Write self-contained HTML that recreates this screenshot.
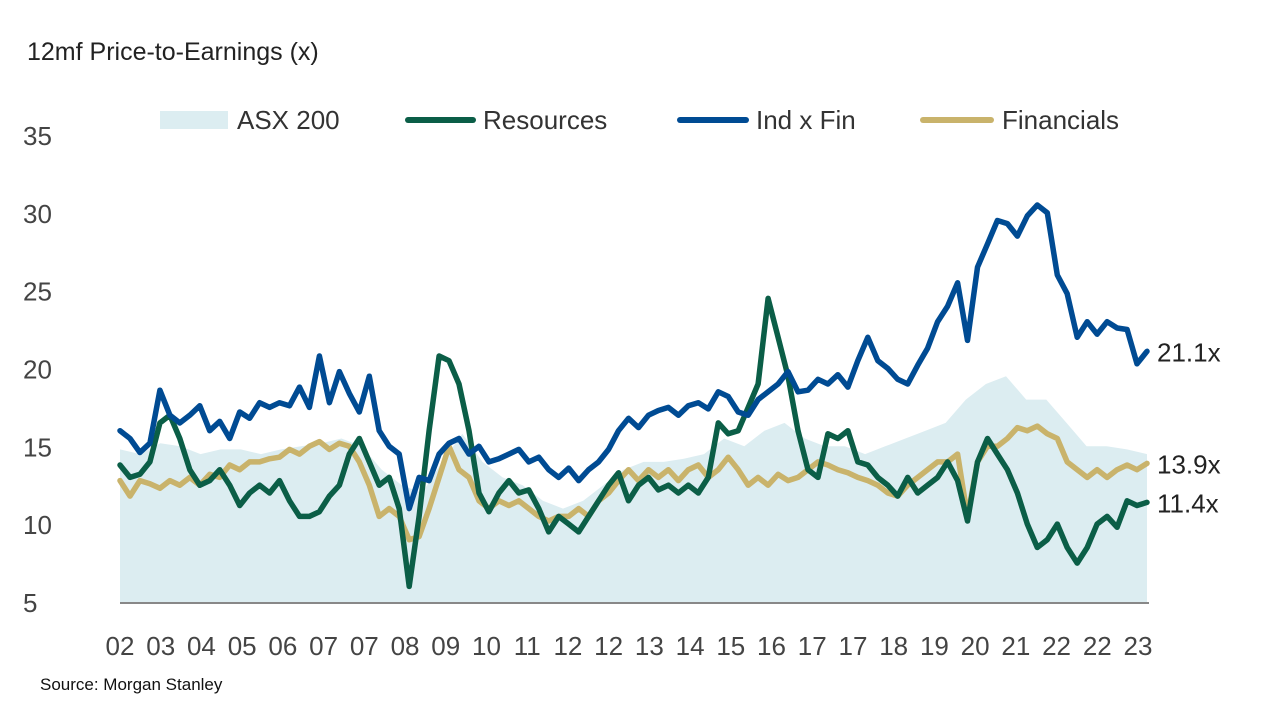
<!DOCTYPE html>
<html><head><meta charset="utf-8"><style>
body{margin:0;background:#fff;width:1280px;height:720px;overflow:hidden;font-family:"Liberation Sans",sans-serif}
svg text{font-family:"Liberation Sans",sans-serif}
</style></head><body>
<svg id="chart" width="1280" height="720">
<text x="27" y="60" font-size="25" fill="#222">12mf Price-to-Earnings (x)</text>
<g>
<rect x="160" y="111" width="68" height="18" fill="#dcedf1"/>
<text x="237" y="129" font-size="26" fill="#333">ASX 200</text>
<line x1="408" y1="120" x2="473" y2="120" stroke="#0b5e47" stroke-width="6" stroke-linecap="round"/>
<text x="483" y="129" font-size="26" fill="#333">Resources</text>
<line x1="680" y1="120" x2="746" y2="120" stroke="#004b93" stroke-width="6" stroke-linecap="round"/>
<text x="756" y="129" font-size="26" fill="#333">Ind x Fin</text>
<line x1="923" y1="120" x2="991" y2="120" stroke="#c9b36b" stroke-width="6" stroke-linecap="round"/>
<text x="1002" y="129" font-size="26" fill="#333">Financials</text>
</g>
<g id="plot"></g>
<text x="40" y="690" font-size="17" fill="#111">Source: Morgan Stanley</text>
</svg>
<script>
const xLabels=["02","03","04","05","06","07","07","08","09","10","11","12","12","13","14","15","16","17","17","18","19","20","21","22","22","23"];
const yTicks=[5,10,15,20,25,30,35];
const asx200=[14.8,14.5,15.2,15.0,14.5,14.8,14.8,14.5,14.8,15.0,15.2,15.5,15.0,13.5,12.5,12.0,14.0,15.8,14.0,13.0,12.5,11.5,11.0,11.5,12.5,13.5,14.0,14.0,14.2,14.5,15.5,15.0,16.0,16.5,15.5,15.0,15.0,14.5,15.0,15.5,16.0,16.5,18.0,19.0,19.5,18.0,18.0,16.5,15.0,15.0,14.8,14.5];
const indxfin=[16.0,15.5,14.6,15.2,18.6,17.0,16.5,17.0,17.6,16.0,16.6,15.5,17.2,16.8,17.8,17.5,17.8,17.6,18.8,17.5,20.8,17.8,19.8,18.4,17.2,19.5,16.0,15.0,14.5,11.0,13.0,12.8,14.5,15.2,15.5,14.5,15.0,14.0,14.2,14.5,14.8,14.0,14.3,13.5,13.0,13.6,12.8,13.5,14.0,14.8,16.0,16.8,16.2,17.0,17.3,17.5,17.0,17.6,17.8,17.4,18.5,18.2,17.2,17.0,18.0,18.5,19.0,19.8,18.5,18.6,19.3,19.0,19.6,18.8,20.5,22.0,20.5,20.0,19.3,19.0,20.2,21.3,23.0,24.0,25.5,21.8,26.5,28.0,29.5,29.3,28.5,29.8,30.5,30.0,26.0,24.8,22.0,23.0,22.2,23.0,22.6,22.5,20.3,21.1];
const resources=[13.8,13.0,13.2,14.0,16.5,17.0,15.5,13.5,12.5,12.8,13.5,12.5,11.2,12.0,12.5,12.0,12.8,11.5,10.5,10.5,10.8,11.8,12.5,14.5,15.5,14.0,12.5,13.0,11.0,6.0,10.5,16.0,20.8,20.5,19.0,16.0,12.0,10.8,12.0,12.8,12.0,12.2,11.0,9.5,10.5,10.0,9.5,10.5,11.5,12.5,13.3,11.5,12.5,13.0,12.2,12.5,12.0,12.5,12.0,13.0,16.5,15.8,16.0,17.5,19.0,24.5,22.0,19.5,16.0,13.5,13.0,15.8,15.5,16.0,14.0,13.8,13.0,12.5,11.8,13.0,12.0,12.5,13.0,14.0,12.8,10.2,14.0,15.5,14.5,13.5,12.0,10.0,8.5,9.0,10.0,8.5,7.5,8.5,10.0,10.5,9.8,11.5,11.2,11.4];
const financials=[12.8,11.8,12.8,12.6,12.3,12.8,12.5,13.0,12.5,13.2,13.0,13.8,13.5,14.0,14.0,14.2,14.3,14.8,14.5,15.0,15.3,14.8,15.2,15.0,14.0,12.5,10.5,11.0,10.5,9.0,9.2,11.0,13.0,15.0,13.5,13.0,11.5,11.0,11.5,11.2,11.5,11.0,10.5,10.2,10.5,10.5,11.0,10.5,11.5,12.0,12.8,13.5,12.8,13.5,13.0,13.5,12.8,13.5,13.8,13.0,13.5,14.3,13.5,12.5,13.0,12.5,13.2,12.8,13.0,13.5,14.0,13.8,13.5,13.3,13.0,12.8,12.5,12.0,11.8,12.5,13.0,13.5,14.0,14.0,14.5,10.5,14.0,15.0,15.0,15.5,16.2,16.0,16.3,15.8,15.5,14.0,13.5,13.0,13.5,13.0,13.5,13.8,13.5,13.9];
const endLabels=[{s:indxfin,t:"21.1x"},{s:financials,t:"13.9x"},{s:resources,t:"11.4x"}];

const X0=120,X1=1147,Y0=602,PPU=15.57;
const yS=v=>Y0-(v-5)*PPU;
const xS=(i,n)=>X0+(X1-X0)*i/(n-1);
const NS="http://www.w3.org/2000/svg";
const plot=document.getElementById('plot');
function mk(tag,attrs){const e=document.createElementNS(NS,tag);for(const k in attrs)e.setAttribute(k,attrs[k]);plot.appendChild(e);return e;}

// area
let d="M"+X0+","+Y0;
asx200.forEach((v,i)=>{d+=" L"+xS(i,asx200.length).toFixed(1)+","+yS(v).toFixed(1);});
d+=" L"+X1+","+Y0+" Z";
const area=mk('path',{d:d,fill:"#dcedf1"});



function line(s,col,name){
  const p=s.map((v,i)=>xS(i,s.length).toFixed(1)+","+yS(v).toFixed(1)).join(" ");
  const el=mk('polyline',{points:p,fill:"none",stroke:col,"stroke-width":5.5,"stroke-linejoin":"round","stroke-linecap":"round"});
  
  
}
line(financials,"#c9b36b",'financials-line');
line(resources,"#0b5e47",'resources-line');
line(indxfin,"#004b93",'indxfin-line');

const ax=mk('line',{x1:X0,y1:Y0+1,x2:X1+2,y2:Y0+1,stroke:"#888","stroke-width":2});



yTicks.forEach(v=>{
  const t=mk('text',{x:23,y:yS(v)+10,"font-size":26,fill:"#444"});
  t.textContent=v;
  
  
});
xLabels.forEach((l,i)=>{
  const t=mk('text',{x:120+i*(1138-120)/(xLabels.length-1),y:655,"font-size":26,fill:"#444","text-anchor":"middle"});
  t.textContent=l;
  
  
});
endLabels.forEach(e=>{
  const t=mk('text',{x:1157,y:yS(e.s[e.s.length-1])+10,"font-size":26,fill:"#222"});
  t.textContent=e.t;
  
  
});
</script>
</body></html>
